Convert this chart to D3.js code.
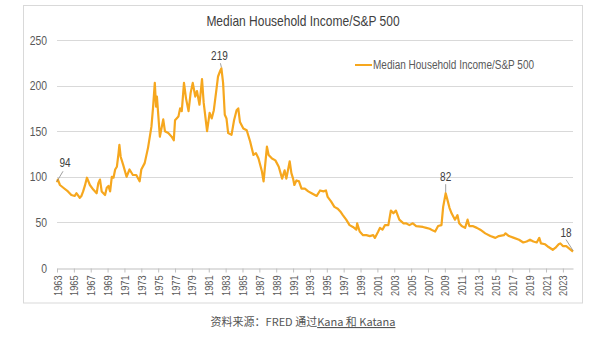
<!DOCTYPE html>
<html>
<head>
<meta charset="utf-8">
<script src="https://cdn.jsdelivr.net/npm/d3@7/dist/d3.min.js"></script>
<style>
  body { margin: 0; background: #fff; }
  .lbl { font-family: 'Liberation Sans', Arial, sans-serif; }
</style>
</head>
<body>
<div id="chart"></div>
<script>
// median household income divided by the S&P 500 level, sampled through the years
var years = [
  1963.0, 1963.1, 1963.35, 1963.75, 1964.3, 1964.7, 1965.1, 1965.3, 1965.7, 1965.9,
  1966.1, 1966.3, 1966.55, 1966.9, 1967.3, 1967.7, 1967.9, 1968.1, 1968.3, 1968.7,
  1968.9, 1969.1, 1969.3, 1969.5, 1969.7, 1969.9, 1970.1, 1970.3, 1970.4, 1970.55,
  1970.85, 1971.25, 1971.6, 1972.0, 1972.4, 1972.8, 1973.0, 1973.4, 1973.8, 1974.2,
  1974.4, 1974.6, 1974.75, 1974.85, 1975.2, 1975.6, 1975.8, 1976.2, 1976.6, 1976.85,
  1977.0, 1977.4, 1977.6, 1977.8, 1978.06, 1978.3, 1978.6, 1978.85, 1979.1, 1979.4,
  1979.6, 1979.9, 1980.2, 1980.4, 1980.8, 1981.1, 1981.35, 1981.6, 1981.9, 1982.1,
  1982.35, 1982.5, 1982.7, 1982.9, 1983.1, 1983.3, 1983.7, 1984.0, 1984.3, 1984.5,
  1984.7, 1985.1, 1985.5, 1985.9, 1986.3, 1986.6, 1986.9, 1987.3, 1987.5, 1987.9,
  1988.1, 1988.5, 1988.9, 1989.3, 1989.7, 1990.0, 1990.2, 1990.6, 1990.8, 1991.0,
  1991.15, 1991.4, 1991.7, 1992.0, 1992.4, 1992.8, 1993.2, 1993.8, 1994.2, 1994.6,
  1994.9, 1995.1, 1995.5, 1995.9, 1996.3, 1996.6, 1996.9, 1997.3, 1997.7, 1998.1,
  1998.5, 1998.6, 1998.9, 1999.3, 1999.7, 2000.1, 2000.5, 2000.7, 2001.1, 2001.3,
  2001.6, 2001.9, 2002.3, 2002.6, 2002.9, 2003.2, 2003.6, 2004.1, 2004.4, 2004.8,
  2005.2, 2005.6, 2006.4, 2006.8, 2007.2, 2007.6, 2007.85, 2008.2, 2008.6, 2008.8,
  2009.1, 2009.3, 2009.55, 2009.8, 2010.2, 2010.5, 2010.7, 2011.0, 2011.4, 2011.7,
  2011.9, 2012.3, 2012.8, 2013.2, 2013.8, 2014.4, 2015.0, 2015.4, 2016.0, 2016.2,
  2016.6, 2017.2, 2017.8, 2018.3, 2018.7, 2019.1, 2019.5, 2019.9, 2020.2, 2020.4,
  2020.9, 2021.3, 2021.8, 2022.1, 2022.5, 2022.7, 2023.0, 2023.4, 2023.8, 2024.2
];
var ratio = [
  94, 97, 91, 88, 84, 80, 79, 82, 77, 79,
  84, 90, 99, 91, 86, 82, 93, 97, 84, 80,
  88, 90, 84, 100, 99, 108, 111, 126, 135, 122,
  113, 100, 108, 102, 102, 95, 108, 115, 132, 155,
  177, 203, 177, 188, 144, 163, 150, 148, 144, 140,
  162, 166, 175, 172, 203, 186, 172, 192, 203, 188,
  194, 179, 207, 181, 150, 170, 164, 173, 195, 210,
  216, 219, 203, 168, 164, 148, 146, 162, 173, 175,
  160, 153, 151, 139, 124, 126, 120, 106, 95, 133,
  124, 120, 118, 111, 98, 107, 98, 117, 104, 98,
  91, 96, 95, 87, 87, 84, 82, 79, 85, 84,
  85, 78, 73, 67, 65, 62, 58, 53, 47, 45,
  42, 49, 40, 36, 36, 35, 36, 33, 40, 44,
  42, 47, 47, 63, 60, 63, 53, 49, 49, 47,
  49, 46, 45, 44, 43, 41, 40, 46, 47, 67,
  82, 75, 66, 60, 53, 58, 49, 46, 44, 53,
  46, 46, 44, 42, 38, 35, 33, 35, 36, 38,
  35, 33, 31, 28, 29, 31, 29, 28, 33, 27,
  26, 23, 20, 22, 26, 27, 24, 24, 21, 18
];
var yTicks = [0, 50, 100, 150, 200, 250];
var xTicks = [1963, 1965, 1967, 1969, 1971, 1973, 1975, 1977, 1979, 1981, 1983,
  1985, 1987, 1989, 1991, 1993, 1995, 1997, 1999, 2001, 2003, 2005, 2007,
  2009, 2011, 2013, 2015, 2017, 2019, 2021, 2023];
// points that get a value callout
var calloutYears = [1963.0, 1982.5, 2009.1, 2024.2];

var seriesName = 'Median Household Income/S&P 500';
var lineColor = '#F6A71E';

var W = 600, H = 342;
var plot = {left: 57, right: 573, top: 40, bottom: 268};

// chart labels use condensed glyphs
function squeeze(sel, k) {
  sel.each(function () {
    var n = this.getComputedTextLength();
    d3.select(this)
      .attr('textLength', n * k)
      .attr('lengthAdjust', 'spacingAndGlyphs');
  });
}

var svg = d3.select('#chart').append('svg')
  .attr('width', W)
  .attr('height', H);

// chart frame
svg.append('rect')
  .attr('x', 23.5).attr('y', 5.5)
  .attr('width', 559).attr('height', 297.5)
  .attr('fill', '#fff')
  .attr('stroke', '#d9d9d9');

var x = d3.scaleLinear().domain([1963, 2024.2]).range([plot.left, plot.right]);
var y = d3.scaleLinear().domain([0, 250]).range([plot.bottom, plot.top]);

// gridlines
svg.append('g')
  .selectAll('line')
  .data(yTicks.filter(function (d) { return d > 0; }))
  .enter()
  .append('line')
  .attr('x1', plot.left).attr('x2', plot.right)
  .attr('y1', function (d) { return Math.round(y(d)) + 0.5; })
  .attr('y2', function (d) { return Math.round(y(d)) + 0.5; })
  .attr('stroke', '#d9d9d9');

// y axis labels
var yAxis = svg.append('g')
  .attr('class', 'lbl')
  .attr('transform', 'translate(' + (plot.left - 10) + ',0)')
  .call(d3.axisLeft(y).tickValues(yTicks).tickSize(0).tickPadding(0));
yAxis.select('.domain').remove();
yAxis.selectAll('text')
  .attr('font-size', '13px')
  .attr('font-family', null)
  .attr('fill', '#595959')
  .call(squeeze, 0.8);

// x axis with rotated year labels
var xAxis = svg.append('g')
  .attr('class', 'lbl')
  .attr('transform', 'translate(0,' + (plot.bottom + 0.5) + ')')
  .call(d3.axisBottom(x).tickValues(xTicks).tickFormat(d3.format('d')).tickSize(4).tickSizeOuter(0));
xAxis.select('.domain').attr('stroke', '#bfbfbf');
xAxis.selectAll('.tick line').attr('stroke', '#bfbfbf');
xAxis.selectAll('text')
  .attr('font-size', '11.5px')
  .attr('font-family', null)
  .attr('fill', '#595959')
  .attr('transform', 'rotate(-90)')
  .attr('text-anchor', 'end')
  .attr('x', -7)
  .attr('y', 0)
  .attr('dy', '0.35em')
  .call(squeeze, 0.8);

// the series
var line = d3.line()
  .x(function (d, i) { return x(years[i]); })
  .y(function (d) { return y(d); });

svg.append('path')
  .datum(ratio)
  .attr('d', line)
  .attr('fill', 'none')
  .attr('stroke', lineColor)
  .attr('stroke-width', 2.2)
  .attr('stroke-linejoin', 'round');

// callouts with short leader lines
var offsets = [
  {lx: 6, ly: -11, tx: 8, ty: -15},
  {lx: -1, ly: -5, tx: -2, ty: -8},
  {lx: 0, ly: -9, tx: 0, ty: -12},
  {lx: -7, ly: -12, tx: -7, ty: -15}
];
calloutYears.forEach(function (yr, k) {
  var i = years.indexOf(yr);
  var px = x(years[i]), py = y(ratio[i]);
  var o = offsets[k];
  svg.append('line')
    .attr('x1', px).attr('y1', py - 1)
    .attr('x2', px + o.lx).attr('y2', py + o.ly)
    .attr('stroke', '#7f7f7f')
    .attr('stroke-width', 0.75);
  svg.append('text')
    .attr('class', 'lbl')
    .attr('x', px + o.tx)
    .attr('y', py + o.ty)
    .attr('text-anchor', 'middle')
    .attr('font-size', '12.5px')
    .attr('fill', '#404040')
    .text(d3.format('d')(ratio[i]))
    .call(squeeze, 0.8);
});

// title
svg.append('text')
  .attr('class', 'lbl')
  .attr('x', 303).attr('y', 25.5)
  .attr('text-anchor', 'middle')
  .attr('font-size', '15px')
  .attr('fill', '#404040')
  .text(seriesName)
  .call(squeeze, 0.8);

// legend
var legend = svg.append('g').attr('transform', 'translate(355,65)');
legend.append('line')
  .attr('x1', 0).attr('x2', 17)
  .attr('stroke', lineColor)
  .attr('stroke-width', 2);
legend.append('text')
  .attr('class', 'lbl')
  .attr('x', 18).attr('y', 4)
  .attr('font-size', '12.5px')
  .attr('fill', '#595959')
  .text(seriesName)
  .call(squeeze, 0.8);

// source line under the frame
var src = svg.append('text')
  .attr('x', 303).attr('y', 326)
  .attr('text-anchor', 'middle')
  .attr('font-family', "'Noto Sans CJK SC', 'Noto Sans', sans-serif")
  .attr('font-size', '11px')
  .attr('fill', '#555');
src.append('tspan').text('资料来源：FRED 通过');
src.append('tspan').attr('text-decoration', 'underline').text('Kana 和 Katana');
</script>
</body>
</html>
